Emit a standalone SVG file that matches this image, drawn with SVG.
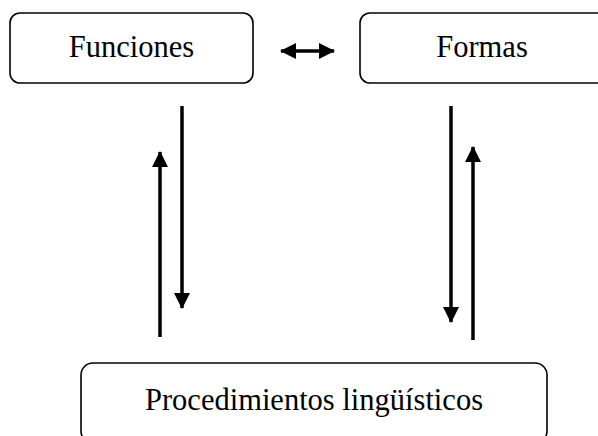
<svg xmlns="http://www.w3.org/2000/svg" width="598" height="436" viewBox="0 0 598 436">
<style>
.box{fill:#fff;stroke:#000;stroke-width:1.6}
.t{font-family:"Liberation Serif","Times New Roman",serif;font-size:30.5px;fill:#000;text-anchor:middle}
.c{stroke:#000;stroke-width:3.5;fill:none}
</style>
<defs>
<marker id="ah" markerUnits="userSpaceOnUse" markerWidth="16" markerHeight="16" refX="15" refY="8" orient="auto-start-reverse" viewBox="0 0 16 16">
<path d="M0,0 L16,8 L0,16 Z" fill="#000"/>
</marker>
</defs>
<rect width="598" height="436" fill="#fff"/>
<g id="funciones">
<rect class="box" x="10" y="13" width="243" height="70" rx="10"/>
<text class="t" x="131.5" y="57">Funciones</text>
</g>
<g id="formas">
<rect class="box" x="360" y="13" width="250" height="70" rx="10"/>
<text class="t" x="482" y="57">Formas</text>
</g>
<g id="procedimientos">
<rect class="box" x="81" y="363" width="466" height="80" rx="12"/>
<text class="t" x="314" y="410">Procedimientos lingüísticos</text>
</g>
<g id="connectors">
<line class="c" x1="281" y1="51" x2="334" y2="51" marker-start="url(#ah)" marker-end="url(#ah)"/>
<line class="c" x1="160" y1="337" x2="160" y2="152" marker-end="url(#ah)"/>
<line class="c" x1="182" y1="106" x2="182" y2="308" marker-end="url(#ah)"/>
<line class="c" x1="451" y1="106" x2="451" y2="322" marker-end="url(#ah)"/>
<line class="c" x1="473" y1="340" x2="473" y2="147" marker-end="url(#ah)"/>
</g>
</svg>
